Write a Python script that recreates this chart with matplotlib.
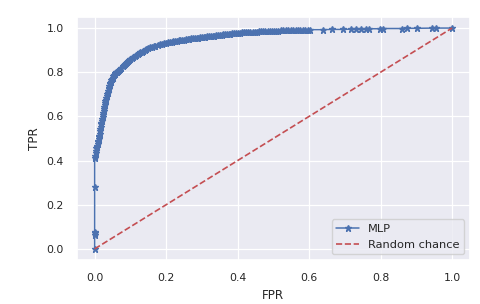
import matplotlib
matplotlib.use("Agg")
import matplotlib.pyplot as plt
import seaborn as sns

sns.set()
sns.set_color_codes()
plt.rcParams['font.family'] = ['DejaVu Sans']

fpr = [0.000, 0.000, 0.000, 0.000, 0.000, 0.000, 0.002, 0.003, 0.004, 0.005,
       0.006, 0.007, 0.008, 0.009, 0.010, 0.011, 0.012, 0.013, 0.014, 0.015,
       0.016, 0.017, 0.018, 0.019, 0.020, 0.021, 0.022, 0.023, 0.024, 0.025,
       0.026, 0.027, 0.028, 0.029, 0.030, 0.031, 0.032, 0.034, 0.035, 0.036,
       0.037, 0.039, 0.040, 0.041, 0.042, 0.044, 0.045, 0.047, 0.048, 0.050,
       0.052, 0.054, 0.056, 0.058, 0.061, 0.063, 0.066, 0.069, 0.072, 0.075,
       0.078, 0.081, 0.084, 0.087, 0.090, 0.094, 0.097, 0.100, 0.104, 0.108,
       0.112, 0.116, 0.120, 0.124, 0.128, 0.132, 0.136, 0.140, 0.145, 0.150,
       0.155, 0.160, 0.165, 0.170, 0.176, 0.182, 0.188, 0.194, 0.200, 0.205,
       0.210, 0.215, 0.220, 0.225, 0.230, 0.235, 0.240, 0.245, 0.250, 0.255,
       0.260, 0.265, 0.270, 0.275, 0.280, 0.285, 0.290, 0.295, 0.300, 0.305,
       0.310, 0.315, 0.320, 0.325, 0.330, 0.335, 0.340, 0.345, 0.350, 0.355,
       0.360, 0.365, 0.370, 0.375, 0.380, 0.385, 0.390, 0.395, 0.400, 0.406,
       0.412, 0.418, 0.424, 0.430, 0.436, 0.442, 0.448, 0.454, 0.460, 0.466,
       0.472, 0.478, 0.484, 0.490, 0.496, 0.502, 0.508, 0.514, 0.520, 0.527,
       0.534, 0.541, 0.548, 0.555, 0.562, 0.568, 0.575, 0.582, 0.589, 0.596,
       0.603, 0.639, 0.663, 0.695, 0.718, 0.732, 0.746, 0.760, 0.769, 0.797,
       0.806, 0.861, 0.875, 0.903, 0.945, 0.954, 1.000]
tpr = [0.000, 0.063, 0.070, 0.078, 0.280, 0.410, 0.420, 0.432, 0.445, 0.455,
       0.462, 0.468, 0.475, 0.482, 0.490, 0.497, 0.505, 0.512, 0.520, 0.535,
       0.543, 0.550, 0.565, 0.572, 0.580, 0.589, 0.598, 0.606, 0.615, 0.623,
       0.632, 0.641, 0.650, 0.659, 0.668, 0.676, 0.685, 0.693, 0.700, 0.708,
       0.715, 0.723, 0.730, 0.738, 0.745, 0.752, 0.758, 0.764, 0.770, 0.776,
       0.782, 0.787, 0.792, 0.796, 0.800, 0.803, 0.806, 0.810, 0.815, 0.820,
       0.826, 0.831, 0.837, 0.841, 0.846, 0.851, 0.855, 0.859, 0.864, 0.869,
       0.873, 0.878, 0.882, 0.886, 0.890, 0.893, 0.897, 0.901, 0.905, 0.909,
       0.912, 0.915, 0.918, 0.920, 0.923, 0.926, 0.928, 0.931, 0.933, 0.935,
       0.936, 0.938, 0.940, 0.942, 0.943, 0.945, 0.946, 0.947, 0.948, 0.950,
       0.951, 0.952, 0.953, 0.954, 0.955, 0.956, 0.957, 0.958, 0.959, 0.960,
       0.961, 0.962, 0.963, 0.964, 0.965, 0.966, 0.967, 0.968, 0.969, 0.970,
       0.971, 0.972, 0.973, 0.974, 0.975, 0.976, 0.977, 0.977, 0.978, 0.979,
       0.980, 0.981, 0.981, 0.982, 0.983, 0.983, 0.984, 0.984, 0.985, 0.985,
       0.986, 0.986, 0.987, 0.987, 0.987, 0.988, 0.988, 0.988, 0.989, 0.989,
       0.989, 0.990, 0.990, 0.990, 0.991, 0.991, 0.992, 0.992, 0.992, 0.992,
       0.993, 0.993, 0.994, 0.994, 0.995, 0.995, 0.996, 0.996, 0.997, 0.997,
       0.998, 0.998, 0.999, 0.999, 1.000, 1.000, 1.000]
chance = [0.0, 1.0]

fig = plt.figure(figsize=(4.8, 3.04), dpi=100)
ax = fig.add_axes([0.160, 0.145, 0.819, 0.799])
ax.plot(fpr, tpr, 'b-*', lw=1.1, markersize=5, label='MLP')
ax.plot(chance, chance, 'r--', lw=1.2, label='Random chance')
ax.set_xlabel('FPR', fontsize=8.6)
ax.set_ylabel('TPR', fontsize=8.6)
ax.tick_params(labelsize=7.8)
for line in ax.get_xgridlines() + ax.get_ygridlines():
    line.set_linewidth(0.9)
ax.legend(loc='lower right', fontsize=8.2)
fig.savefig('out.png', dpi=100)
